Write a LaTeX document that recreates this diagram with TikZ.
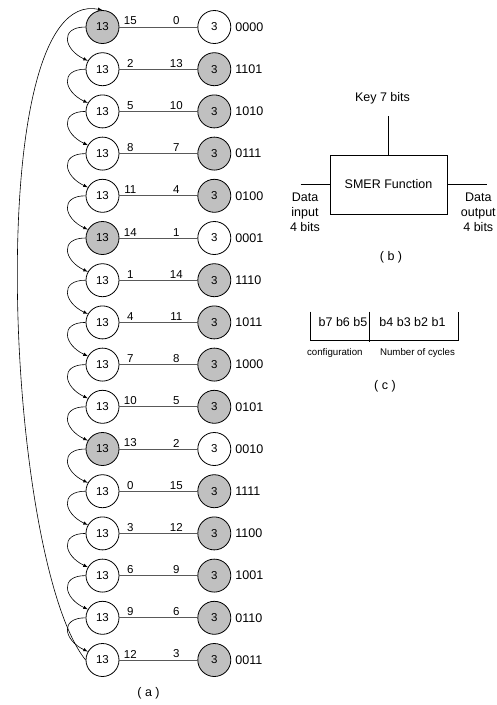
\documentclass[tikz,border=0pt]{standalone}
\usepackage{fontspec}
\setmainfont{Liberation Sans}
\usetikzlibrary{positioning}
\definecolor{grigio}{RGB}{192,192,192}
\tikzset{
  stato/.style={circle, draw, line width=0.8pt, minimum size=33pt, inner sep=0pt, font=\fontsize{11.5}{13}\selectfont},
  pieno/.style={fill=grigio},
  vuoto/.style={fill=white},
  filo/.style={line width=0.8pt, black!65},
  peso/.style={font=\fontsize{11.5}{13}\selectfont, inner sep=1.5pt, text=black},
  codice/.style={font=\fontsize{12.5}{15}\selectfont, inner sep=0pt},
  testo/.style={font=\fontsize{12.5}{15}\selectfont, align=center, inner sep=0pt},
  piccolo/.style={font=\fontsize{9.7}{11}\selectfont, inner sep=0pt},
  blocco/.style={draw, line width=0.8pt, minimum width=117pt, minimum height=59pt, font=\fontsize{12.5}{15}\selectfont}
}
\begin{document}
\begin{tikzpicture}[x=1pt, y=-1pt, >=latex]
        \useasboundingbox (0,0) rectangle (496,705);

        % Le sedici coppie di stati (a)
        \foreach \i/\cl/\cr/\a/\b/\code in {0/pieno/vuoto/15/0/0000, 1/vuoto/pieno/2/13/1101,
            2/vuoto/pieno/5/10/1010, 3/vuoto/pieno/8/7/0111, 4/vuoto/pieno/11/4/0100,
            5/pieno/vuoto/14/1/0001, 6/vuoto/pieno/1/14/1110, 7/vuoto/pieno/4/11/1011,
            8/vuoto/pieno/7/8/1000, 9/vuoto/pieno/10/5/0101, 10/pieno/vuoto/13/2/0010,
            11/vuoto/pieno/0/15/1111, 12/vuoto/pieno/3/12/1100, 13/vuoto/pieno/6/9/1001,
            14/vuoto/pieno/9/6/0110, 15/vuoto/pieno/12/3/0011} {
            \node[stato, \cl] (l\i) at (102.5, {27+42.2*\i}) {13};
            \node[stato, \cr, right=78pt of l\i] (r\i) {3};
            \node[codice, right=4pt of r\i] (c\i) {\code};
            \draw[filo] (l\i) -- (r\i)
                node[peso, pos=0.14, above] (pa\i) {\a}
                node[peso, pos=0.73, above] (pb\i) {\b};
        }

        % Frecce tra uno stato e il successivo
        \foreach \i in {0,...,14} {
            \pgfmathtruncatemacro\j{\i+1}
            \draw[->, line width=0.6pt] (l\i.west) to[out=180, in=155, looseness=2] (l\j.150);
        }

        % Ritorno dall'ultimo stato al primo
        \draw[->, line width=0.6pt] (l15.west) .. controls (5,560) and (-20,-15) .. (l0.north);
        \node[testo] (la) at (148.5,693) {( a )};

        % Blocco della funzione SMER (b)
        \node[blocco] (smer) at (388.5,184.5) {SMER Function};
        \coordinate (kin) at (388.5,116);
        \coordinate (din) at (300.7,184.5);
        \coordinate (dout) at (486.7,184.5);
        \draw[line width=0.8pt] (kin) -- (smer.north);
        \draw[line width=0.8pt] (din) -- (smer.west);
        \draw[line width=0.8pt] (smer.east) -- (dout);
        \node[testo] (key) at (382.5,98.3) {Key 7 bits};
        \node[testo] (ingresso) at (305,212.5) {Data\\input\\4 bits};
        \node[testo] (uscita) at (478.3,212.5) {Data\\output\\4 bits};
        \node[testo] (lb) at (391,257) {( b )};

        % Formato della chiave (c)
        \draw[line width=0.8pt] (310.7,311.7) |- (458.3,340.7) -- (458.3,311.7);
        \draw[line width=0.8pt] (369.3,311.7) -- (369.3,342);
        \node[testo] (conf) at (343,321.7) {b7 b6 b5};
        \node[testo] (cicli) at (412.5,321.7) {b4 b3 b2 b1};
        \node[piccolo] (nconf) at (334.8,352.7) {configuration};
        \node[piccolo] (ncicli) at (417.5,352.7) {Number of cycles};
        \node[testo] (lc) at (385,386.7) {( c )};
\end{tikzpicture}
\end{document}
